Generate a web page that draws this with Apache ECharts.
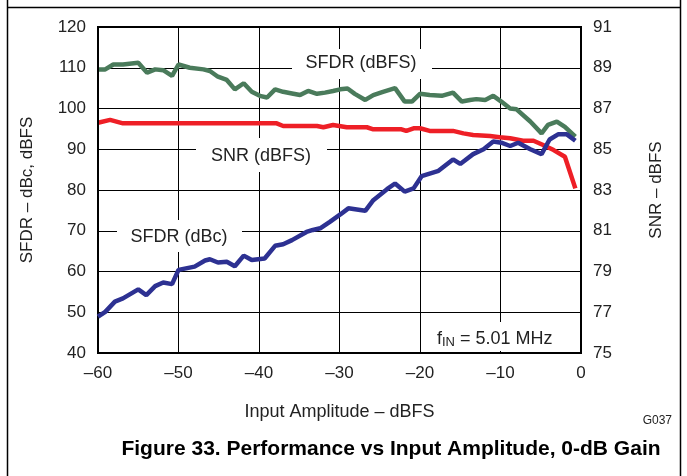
<!DOCTYPE html>
<html>
<head>
<meta charset="utf-8">
<script src="https://cdn.jsdelivr.net/npm/echarts@6/dist/echarts.min.js"></script>
<style>
html,body{margin:0;padding:0;background:#fff;}
#chart{width:687px;height:476px;}
</style>
</head>
<body>
<div id="chart"></div>
<script>
// Input amplitude (dBFS) positions and values
var xTicks = [-60, -50, -40, -30, -20, -10, 0];
var leftTicks = [40, 50, 60, 70, 80, 90, 100, 110, 120];
var rightTicks = [75, 77, 79, 81, 83, 85, 87, 89, 91];

var sfdrDbfsX = [-60, -59.1, -58.1, -56.9, -55.0, -53.9, -52.9, -51.9, -50.8, -50.0, -48.6, -46.9, -46.1, -45.1, -44.0, -43.0, -41.9, -40.9, -39.9, -39.0, -38.0, -37.0, -35.9, -34.9, -33.9, -32.8, -31.8, -30.8, -29.9, -29.0, -28.1, -26.8, -25.8, -24.6, -23.1, -21.9, -21.0, -20.0, -18.8, -17.3, -15.9, -14.8, -13.8, -13.0, -11.9, -10.9, -9.9, -8.8, -8.0, -6.3, -4.9, -4.1, -3.0, -2.0, -0.7];
var sfdrDbfsY = [109.6, 109.6, 110.8, 110.8, 111.2, 108.8, 109.6, 109.4, 108.0, 110.8, 110.0, 109.6, 109.2, 107.8, 107.0, 104.7, 106.2, 104.1, 103.1, 102.7, 104.7, 104.1, 103.7, 103.3, 104.3, 103.6, 103.9, 104.3, 104.7, 104.9, 103.6, 102.1, 103.3, 104.1, 105.0, 101.7, 101.7, 103.6, 103.3, 103.1, 103.9, 101.7, 102.1, 102.3, 102.1, 103.1, 101.7, 100.0, 99.8, 96.8, 93.9, 96.0, 96.8, 95.5, 93.1];

var snrX = [-60, -58.5, -56.9, -37.8, -37.0, -32.8, -32.0, -30.8, -29.1, -26.6, -25.8, -22.3, -21.7, -20.8, -20.0, -18.8, -15.9, -14.6, -13.4, -11.3, -10.1, -8.8, -7.2, -5.9, -4.7, -3.4, -2.0, -0.7];
var snrY = [86.30, 86.44, 86.27, 86.27, 86.14, 86.14, 86.08, 86.19, 86.08, 86.08, 85.98, 85.98, 85.90, 86.03, 86.03, 85.90, 85.90, 85.78, 85.70, 85.65, 85.59, 85.54, 85.42, 85.42, 85.21, 84.96, 84.63, 83.08];

var sfdrDbcX = [-60, -59.1, -57.9, -56.9, -55.0, -54.0, -52.9, -51.9, -50.8, -50.0, -48.0, -46.7, -46.1, -45.1, -44.0, -43.0, -41.9, -40.9, -39.3, -38.0, -37.0, -35.9, -34.1, -33.3, -32.4, -31.2, -29.9, -28.9, -26.8, -25.8, -24.1, -23.1, -21.9, -20.8, -19.8, -17.7, -15.9, -15.0, -13.4, -12.1, -10.9, -9.9, -8.8, -7.8, -6.3, -4.9, -3.9, -2.8, -1.8, -0.7];
var sfdrDbcY = [48.9, 50.1, 52.6, 53.4, 55.6, 54.2, 56.4, 57.3, 56.9, 60.4, 61.2, 62.7, 63.0, 62.2, 62.4, 61.3, 63.9, 62.8, 63.2, 66.3, 66.7, 67.7, 69.7, 70.2, 70.6, 72.2, 74.0, 75.5, 74.9, 77.5, 80.2, 81.6, 79.6, 80.4, 83.4, 84.7, 87.5, 86.4, 88.8, 90.0, 91.9, 91.6, 90.8, 91.6, 90.0, 88.8, 92.4, 93.7, 93.7, 92.1];

function pairs(xs, ys) { return xs.map(function (x, i) { return [x, ys[i]]; }); }

var FONT = '"Liberation Sans", Arial, Helvetica, sans-serif';
var chart = echarts.init(document.getElementById('chart'), null, {renderer: 'canvas'});

function dashFmt(v) { return v < 0 ? '\u2013' + Math.abs(v) : String(v); }

var option = {
  animation: false,
  backgroundColor: '#ffffff',
  grid: {left: 98, right: 106, top: 27, bottom: 123, show: true, borderColor: '#000', borderWidth: 2, backgroundColor: 'transparent', z: 5},
  xAxis: {
    type: 'value', min: xTicks[0], max: xTicks[xTicks.length - 1], interval: 10,
    name: 'Input Amplitude \u2013 dBFS', nameLocation: 'middle', nameGap: 50,
    nameTextStyle: {fontFamily: FONT, fontSize: 18, color: '#222'},
    axisLine: {show: false}, axisTick: {show: false},
    axisLabel: {fontFamily: FONT, fontSize: 17, color: '#222', margin: 12, formatter: dashFmt},
    splitLine: {show: true, lineStyle: {color: '#000', width: 1}}
  },
  yAxis: [{
    type: 'value', min: leftTicks[0], max: leftTicks[leftTicks.length - 1], interval: 10,
    name: 'SFDR \u2013 dBc, dBFS', nameLocation: 'middle', nameGap: 62, nameRotate: 90,
    nameTextStyle: {fontFamily: FONT, fontSize: 17, color: '#222'},
    axisLine: {show: false}, axisTick: {show: false},
    axisLabel: {fontFamily: FONT, fontSize: 17, color: '#222', margin: 12},
    splitLine: {show: true, lineStyle: {color: '#000', width: 1}}
  }, {
    type: 'value', min: rightTicks[0], max: rightTicks[rightTicks.length - 1], interval: 2,
    position: 'right',
    name: 'SNR \u2013 dBFS', nameLocation: 'middle', nameGap: 67, nameRotate: 90,
    nameTextStyle: {fontFamily: FONT, fontSize: 17, color: '#222'},
    axisLine: {show: false}, axisTick: {show: false},
    axisLabel: {fontFamily: FONT, fontSize: 17, color: '#222', margin: 12},
    splitLine: {show: false}
  }],
  series: [
    {name: 'SNR (dBFS)', type: 'line', yAxisIndex: 1, data: pairs(snrX, snrY), showSymbol: false, lineStyle: {color: '#ee1f26', width: 4.5}, z: 3},
    {name: 'SFDR (dBFS)', type: 'line', yAxisIndex: 0, data: pairs(sfdrDbfsX, sfdrDbfsY), showSymbol: false, lineStyle: {color: '#4a7b5b', width: 4.5}, z: 4},
    {name: 'SFDR (dBc)', type: 'line', yAxisIndex: 0, data: pairs(sfdrDbcX, sfdrDbcY), showSymbol: false, lineStyle: {color: '#2d3192', width: 4.5}, z: 5}
  ],
  graphic: [
    {type: 'line', shape: {x1: 7, y1: 7.5, x2: 681, y2: 7.5}, style: {stroke: '#000', lineWidth: 1.5}},
    {type: 'line', shape: {x1: 7.5, y1: 0, x2: 7.5, y2: 476}, style: {stroke: '#000', lineWidth: 1.5}},
    {type: 'line', shape: {x1: 680.5, y1: 0, x2: 680.5, y2: 476}, style: {stroke: '#000', lineWidth: 1.5}},
    {type: 'rect', shape: {x: 292, y: 49, width: 140, height: 30}, style: {fill: '#fff'}, z: 2},
    {type: 'text', x: 361, y: 63, style: {text: 'SFDR (dBFS)', font: '18px ' + FONT, fill: '#222', align: 'center', verticalAlign: 'middle'}, z: 3},
    {type: 'rect', shape: {x: 196, y: 138, width: 131, height: 34}, style: {fill: '#fff'}, z: 2},
    {type: 'text', x: 261, y: 156, style: {text: 'SNR (dBFS)', font: '18px ' + FONT, fill: '#222', align: 'center', verticalAlign: 'middle'}, z: 3},
    {type: 'rect', shape: {x: 117, y: 220, width: 125, height: 32}, style: {fill: '#fff'}, z: 2},
    {type: 'text', x: 179, y: 237, style: {text: 'SFDR (dBc)', font: '18px ' + FONT, fill: '#222', align: 'center', verticalAlign: 'middle'}, z: 3},
    {type: 'rect', shape: {x: 430, y: 322, width: 132, height: 29}, style: {fill: '#fff'}, z: 2},
    {type: 'text', x: 437, y: 339, style: {
      text: '{a|f}{s|IN}{a| = 5.01 MHz}', fill: '#222', align: 'left', verticalAlign: 'middle',
      rich: {a: {fontFamily: FONT, fontSize: 18, fill: '#222', verticalAlign: 'bottom'}, s: {fontFamily: FONT, fontSize: 13, fill: '#222', padding: [6, 0, 0, 0], verticalAlign: 'bottom'}}
    }, z: 3},
    {type: 'text', x: 672, y: 421, style: {text: 'G037', font: '12px ' + FONT, fill: '#222', align: 'right', verticalAlign: 'middle'}},
    {type: 'text', x: 391, y: 449, style: {text: 'Figure 33. Performance vs Input Amplitude, 0-dB Gain', font: 'bold 21px ' + FONT, fill: '#000', align: 'center', verticalAlign: 'middle'}}
  ]
};
chart.setOption(option);
</script>
</body>
</html>
